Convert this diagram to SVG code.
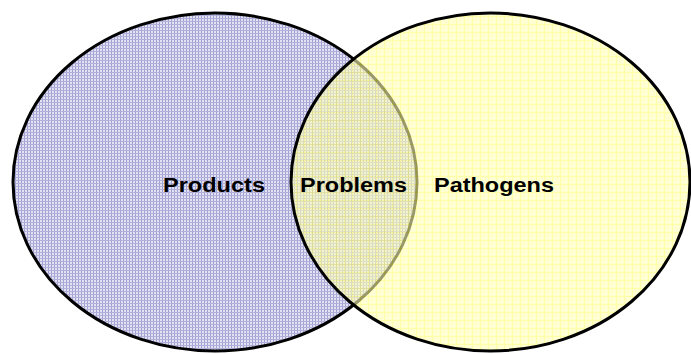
<svg xmlns="http://www.w3.org/2000/svg" width="691" height="354" viewBox="0 0 691 354">
  <defs>
    <pattern id="gridBlue" width="3" height="3" patternUnits="userSpaceOnUse">
      <rect width="3" height="3" fill="#E2E2F3"/>
      <rect width="1" height="3" fill="#A0A0D2"/>
      <rect width="3" height="1" fill="#B0B0DA"/>
    </pattern>
    <pattern id="gridYellow" width="8" height="8" patternUnits="userSpaceOnUse">
      <rect width="8" height="8" fill="#FFFFB4"/>
      <rect width="1" height="8" fill="#FFFF6E"/>
      <rect width="8" height="1" fill="#FFFF6E"/>
    </pattern>
    <style>
      .set { stroke: #000; stroke-width: 3; }
      .lbl { font-family: "Liberation Sans", Arial, sans-serif; font-weight: bold; font-size: 20px; fill: #000; }
    </style>
  </defs>
  <rect width="691" height="354" fill="#FFFFFF"/>
  <g id="products">
    <ellipse class="set" cx="215" cy="182" rx="202" ry="169" fill="url(#gridBlue)"/>
  </g>
  <g id="pathogens">
    <ellipse cx="490.5" cy="182" rx="199.5" ry="169" fill="url(#gridYellow)" fill-opacity="0.6"/>
    <ellipse class="set" cx="490.5" cy="182" rx="199.5" ry="169" fill="none"/>
  </g>
  <g id="labels">
    <text class="lbl" x="163" y="192" textLength="102" lengthAdjust="spacingAndGlyphs">Products</text>
    <text class="lbl" x="300" y="192" textLength="107" lengthAdjust="spacingAndGlyphs">Problems</text>
    <text class="lbl" x="434" y="192" textLength="120" lengthAdjust="spacingAndGlyphs">Pathogens</text>
  </g>
</svg>
